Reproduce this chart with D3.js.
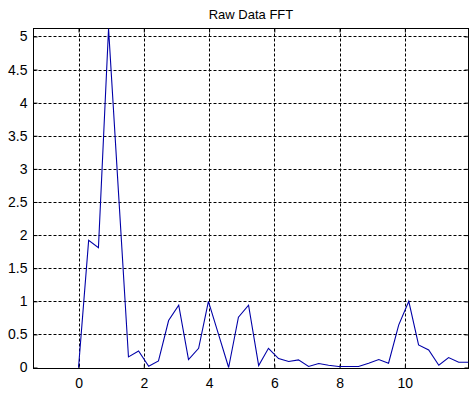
<!DOCTYPE html>
<html>
<head>
<meta charset="utf-8">
<script src="https://cdn.jsdelivr.net/npm/d3@7"></script>
<style>
body { margin: 0; background: #fff; }
text { font-family: "Liberation Sans", Arial, sans-serif; }
</style>
</head>
<body>
<script>
// frequency bins and FFT magnitudes
const freq = [0, 0.31, 0.61, 0.92, 1.23, 1.53, 1.84, 2.15, 2.45, 2.76,
              3.07, 3.37, 3.68, 3.98, 4.29, 4.60, 4.90, 5.21, 5.52, 5.82,
              6.13, 6.44, 6.74, 7.05, 7.36, 7.66, 7.97, 8.28, 8.58, 8.89,
              9.20, 9.50, 9.81, 10.12, 10.42, 10.73, 11.04, 11.34, 11.65, 11.95];
const mag = [0, 1.92, 1.81, 5.12, 2.6, 0.16, 0.25, 0.02, 0.10, 0.71,
             0.94, 0.12, 0.29, 1.0, 0.5, 0.0, 0.76, 0.94, 0.03, 0.29,
             0.135, 0.09, 0.115, 0.015, 0.06, 0.035, 0.015, 0.015, 0.015, 0.065,
             0.12, 0.065, 0.64, 1.0, 0.34, 0.265, 0.035, 0.15, 0.08, 0.08];
const xTicks = [0, 2, 4, 6, 8, 10];
const yTicks = [0, 0.5, 1, 1.5, 2, 2.5, 3, 3.5, 4, 4.5, 5];
const title = "Raw Data FFT";

const W = 474, H = 395;
const pL = 33.5, pR = 468.5, pT = 28.5, pB = 368.5;

const svg = d3.select("body").append("svg").attr("width", W).attr("height", H);

const x = d3.scaleLinear().domain([-1.38, 11.95]).range([pL, pR]);
const y = d3.scaleLinear().domain([-0.015, 5.12]).range([pB, pT]);

// grid
svg.append("g").selectAll("line").data(xTicks).enter().append("line")
    .attr("x1", d => Math.round(x(d)) + 0.5).attr("x2", d => Math.round(x(d)) + 0.5)
    .attr("y1", pT).attr("y2", pB)
    .attr("stroke", "#000").attr("stroke-dasharray", "3,2");
svg.append("g").selectAll("line").data(yTicks).enter().append("line")
    .attr("y1", d => Math.round(y(d)) + 0.5).attr("y2", d => Math.round(y(d)) + 0.5)
    .attr("x1", pL).attr("x2", pR)
    .attr("stroke", "#000").attr("stroke-dasharray", "3,2");

// axes with inward ticks
svg.append("g").attr("transform", `translate(0,${pB})`)
    .call(d3.axisBottom(x).tickValues(xTicks).tickSizeInner(-4).tickSizeOuter(0).tickPadding(10));
svg.append("g").attr("transform", `translate(${pL},0)`)
    .call(d3.axisLeft(y).tickValues(yTicks).tickFormat(d3.format("")).tickSizeInner(-4).tickSizeOuter(0).tickPadding(6));
svg.append("g").attr("transform", `translate(0,${pT})`)
    .call(d3.axisTop(x).tickValues(xTicks).tickSizeInner(-4).tickSizeOuter(0).tickFormat(""));
svg.append("g").attr("transform", `translate(${pR},0)`)
    .call(d3.axisRight(y).tickValues(yTicks).tickSizeInner(-4).tickSizeOuter(0).tickFormat(""));

svg.selectAll(".domain").remove();
svg.selectAll(".tick line").attr("stroke", "#000");
svg.selectAll(".tick text").attr("fill", "#000").style("font-size", "14px")
    .style("font-family", "'Liberation Sans', Arial, sans-serif");

// box
svg.append("rect").attr("x", pL).attr("y", pT)
    .attr("width", pR - pL).attr("height", pB - pT)
    .attr("fill", "none").attr("stroke", "#000");

// data line
svg.append("clipPath").attr("id", "clip").append("rect")
    .attr("x", pL).attr("y", pT).attr("width", pR - pL).attr("height", pB - pT);
svg.append("path").datum(freq.map((f, i) => [f, mag[i]]))
    .attr("clip-path", "url(#clip)")
    .attr("d", d3.line().x(d => x(d[0])).y(d => y(d[1])))
    .attr("fill", "none").attr("stroke", "#0000a8").attr("stroke-width", 1.1);

svg.append("text").attr("x", (pL + pR) / 2).attr("y", 18.5)
    .attr("text-anchor", "middle").style("font-size", "13px").text(title);
</script>
</body>
</html>
